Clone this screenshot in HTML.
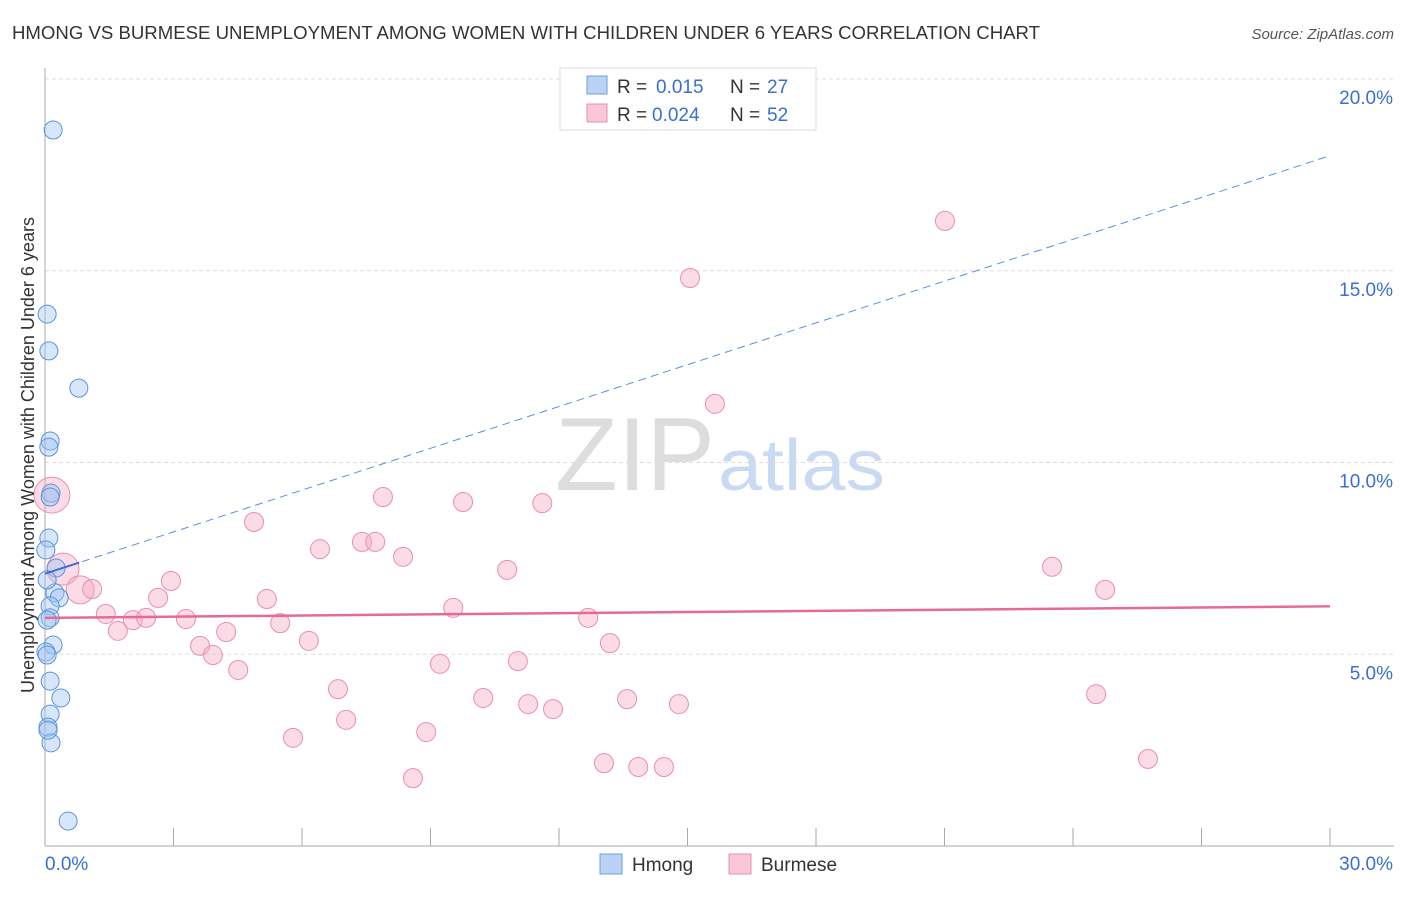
<!DOCTYPE html>
<html><head><meta charset="utf-8"><style>
body{margin:0;background:#fff;font-family:"Liberation Sans",sans-serif;}
svg text{font-family:"Liberation Sans",sans-serif;}
</style></head><body>
<svg width="1406" height="892" xmlns="http://www.w3.org/2000/svg">
<text x="12" y="39" font-size="18" fill="#333" textLength="1028" lengthAdjust="spacingAndGlyphs">HMONG VS BURMESE UNEMPLOYMENT AMONG WOMEN WITH CHILDREN UNDER 6 YEARS CORRELATION CHART</text>
<text x="1394" y="39" font-size="15" fill="#555" font-style="italic" text-anchor="end">Source: ZipAtlas.com</text>
<text x="555" y="490" font-size="104" fill="#ddd" textLength="160" lengthAdjust="spacingAndGlyphs" font-family="Liberation Serif">ZIP</text>
<text x="718" y="490" font-size="72" fill="#c9daf2" textLength="167" lengthAdjust="spacingAndGlyphs">atlas</text>
<g id="grid"></g>
<g id="axes"></g>
<g id="marks"></g>
<text transform="translate(34,455) rotate(-90)" font-size="18" fill="#333" text-anchor="middle">Unemployment Among Women with Children Under 6 years</text>
<g>
<rect x="560" y="68" width="256" height="62" fill="#fff" stroke="#ddd"/>
<rect x="587" y="76" width="20" height="18" fill="#b9d3f5" stroke="#6a9fe0"/>
<rect x="587" y="104" width="20" height="18" fill="#f9c7d5" stroke="#ea8fab"/>
<text x="617" y="93" font-size="19" fill="#333">R = <tspan x="656" fill="#3a6fd0">0.015</tspan><tspan x="730">N = </tspan><tspan x="767" fill="#3a6fd0">27</tspan></text>
<text x="617" y="121" font-size="19" fill="#333">R = <tspan x="652" fill="#3a6fd0">0.024</tspan><tspan x="730">N = </tspan><tspan x="767" fill="#3a6fd0">52</tspan></text>
</g>
<g>
<rect x="600" y="854" width="22" height="20" fill="#b9d3f5" stroke="#6a9fe0"/>
<text x="632" y="871" font-size="19" fill="#333">Hmong</text>
<rect x="729" y="854" width="22" height="20" fill="#f9c7d5" stroke="#ea8fab"/>
<text x="761" y="871" font-size="19" fill="#333">Burmese</text>
</g>
</svg>
<script>
const hmongX=[0.19,0.05,0.09,0.79,0.12,0.09,0.14,0.12,0.09,0.02,0.26,0.23,0.33,0.12,0.12,0.19,0.02,0.12,0.37,0.12,0.07,0.14,0.54,0.05,0.05,0.05,0.07];
const hmongY=[18.67,13.87,12.91,11.94,10.56,10.40,9.20,9.10,8.03,7.72,7.25,6.60,6.47,6.26,5.95,5.24,5.06,4.30,3.86,3.44,3.10,2.69,0.65,6.94,5.89,4.98,3.02];
const burmX=[0.16,0.42,0.82,1.10,1.42,1.70,2.05,2.36,2.64,2.94,3.29,3.62,3.92,4.23,4.51,4.88,5.18,5.49,5.79,6.16,6.42,6.84,7.03,7.40,7.71,7.89,8.36,8.59,8.90,9.22,9.53,9.76,10.23,10.79,11.04,11.28,11.61,11.86,12.68,13.05,13.19,13.59,13.85,14.45,14.80,15.06,15.64,21.01,23.51,24.54,24.75,25.75];
const burmY=[9.15,7.22,6.68,6.70,6.05,5.61,5.89,5.95,6.47,6.91,5.92,5.22,4.98,5.58,4.59,8.45,6.44,5.81,2.82,5.35,7.74,4.09,3.29,7.93,7.93,9.10,7.54,1.77,2.97,4.75,6.21,8.97,3.86,7.20,4.82,3.70,8.94,3.57,5.95,2.16,5.29,3.83,2.06,2.06,3.70,14.81,11.53,16.30,7.28,3.96,6.68,2.27];
const burmSize=[18,16,14];
const yTicks=[5,10,15,20];
const yTickLabels=["5.0%","10.0%","15.0%","20.0%"];
const xTickVals=[0,3,6,9,12,15,18,21,24,27,30];
const hmongTrend=[7.1,18.0];
const burmTrend=[5.95,6.25];
const NS="http://www.w3.org/2000/svg";
const sx=v=>45+v*1285/30, sy=v=>846-v*38.35;
function mk(tag,at,parent){const e=document.createElementNS(NS,tag);for(const k in at)e.setAttribute(k,at[k]);document.getElementById(parent).appendChild(e);return e;}
yTicks.forEach((t,i)=>{
 const l=mk('line',{x1:45,x2:1394,y1:sy(t),y2:sy(t),stroke:'#ddd','stroke-dasharray':'4,3'},'grid');
 
 
 const tx=mk('text',{x:1393,y:sy(t)+25,'font-size':19,fill:'#3a6fd0','text-anchor':'end'},'grid');
 tx.textContent=yTickLabels[i];
 
 
});
mk('line',{x1:45,x2:45,y1:68,y2:846,stroke:'#aaa'},'axes');
mk('line',{x1:45,x2:1394,y1:846,y2:846,stroke:'#aaa'},'axes');
xTickVals.forEach(t=>{const l=mk('line',{x1:sx(t),x2:sx(t),y1:828,y2:846,stroke:'#aaa'},'axes');
 
 });
let a=mk('text',{x:45,y:870,'font-size':19,fill:'#3a6fd0'},'axes');a.textContent='0.0%';


a=mk('text',{x:1393,y:870,'font-size':19,fill:'#3a6fd0','text-anchor':'end'},'axes');a.textContent='30.0%';


burmX.forEach((x,i)=>{const c=mk('circle',{cx:sx(x),cy:sy(burmY[i]),r:burmSize[i]||9.5,fill:'rgba(246,170,195,0.42)',stroke:'#ea8fab','stroke-width':1},'marks');
 
 });
hmongX.forEach((x,i)=>{const c=mk('circle',{cx:sx(x),cy:sy(hmongY[i]),r:9,fill:'rgba(160,196,240,0.42)',stroke:'#5b93dd','stroke-width':1},'marks');
 
 });
let t=mk('line',{x1:sx(0),y1:sy(hmongTrend[0]),x2:sx(30),y2:sy(hmongTrend[1]),stroke:'#5b8fe0','stroke-dasharray':'8,5'},'marks');


const hy=v=>hmongTrend[0]+(hmongTrend[1]-hmongTrend[0])*v/30;
t=mk('line',{x1:sx(0),y1:sy(hy(0)),x2:sx(0.8),y2:sy(hy(0.8)),stroke:'#3a6fd0','stroke-width':2},'marks');


t=mk('line',{x1:sx(0),y1:sy(burmTrend[0]),x2:sx(30),y2:sy(burmTrend[1]),stroke:'#e76a93','stroke-width':2.5},'marks');


</script>
</body></html>
